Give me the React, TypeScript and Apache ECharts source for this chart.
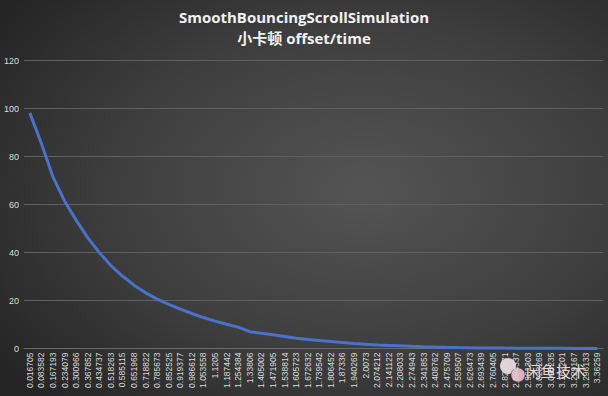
import React, { useEffect, useRef } from "react";
import * as echarts from "echarts";

const titleLine1 = "SmoothBouncingScrollSimulation";
const titleLine2 = "小卡顿 offset/time";
const watermarkText = "闲鱼技术";

const timeLabels = [
  "0.016705", "0.083582", "0.167193", "0.234079", "0.300966", "0.367852", "0.434737", "0.518263",
  "0.585115", "0.651968", "0.718822", "0.785673", "0.852525", "0.919377", "0.986612", "1.053558",
  "1.1205", "1.187442", "1.254384", "1.33806", "1.405002", "1.471905", "1.538814", "1.605723",
  "1.672632", "1.739542", "1.806452", "1.87336", "1.940269", "2.0073", "2.074212", "2.141122",
  "2.208033", "2.274943", "2.341853", "2.408762", "2.475709", "2.559507", "2.626473", "2.693439",
  "2.760405", "2.827371", "2.894337", "2.961303", "3.028269", "3.095235", "3.162201", "3.229167",
  "3.296133", "3.36259",
];

const offsetValues = [
  98.2, 85.5, 71.5, 61.5, 53.5, 46.2, 40.0, 34.6, 30.2, 26.4, 23.2, 20.6, 18.4, 16.4, 14.6, 12.9,
  11.4, 10.1, 8.9, 7.0, 6.4, 5.7, 5.0, 4.3, 3.8, 3.3, 2.9, 2.5, 2.1, 1.8, 1.5, 1.3,
  1.1, 0.9, 0.75, 0.62, 0.5, 0.4, 0.32, 0.26, 0.21, 0.17, 0.14, 0.11, 0.09, 0.07, 0.06, 0.05,
  0.04, 0.03,
];

const yTicks = { min: 0, max: 120, interval: 20 };

export default function App() {
  const ref = useRef<HTMLDivElement>(null);
  useEffect(() => {
    document.body.style.margin = "0";
    const chart = echarts.init(ref.current!, null, { renderer: "svg" });
    const titleFont = "bold 15px 'Open Sans', 'Noto Sans CJK SC', sans-serif";
    chart.setOption({
      animation: false,
      backgroundColor: "#2b2b2b",
      graphic: [
        {
          type: "rect",
          z: -10,
          silent: true,
          shape: { x: 0, y: 0, width: 608, height: 396 },
          style: {
            fill: new echarts.graphic.RadialGradient(0.6, 0.48, 0.75, [
              { offset: 0, color: "#545454" },
              { offset: 0.55, color: "#3e3e3e" },
              { offset: 1, color: "#242424" },
            ]),
          },
        },
        {
          type: "text",
          x: 304,
          y: 17,
          z: 50,
          style: { text: titleLine1, fill: "#f2f2f2", font: titleFont, align: "center", verticalAlign: "middle" },
        },
        {
          type: "text",
          x: 304,
          y: 38,
          z: 50,
          style: { text: titleLine2, fill: "#f2f2f2", font: titleFont, align: "center", verticalAlign: "middle" },
        },
        {
          type: "group",
          z: 100,
          children: [
            { type: "circle", shape: { cx: 508, cy: 366, r: 8 }, style: { fill: "rgba(255,235,240,0.85)" } },
            { type: "circle", shape: { cx: 518, cy: 375, r: 7 }, style: { fill: "rgba(240,190,205,0.9)", stroke: "rgba(90,60,70,0.6)", lineWidth: 1 } },
            {
              type: "text",
              x: 526,
              y: 370,
              style: {
                text: watermarkText,
                fill: "rgba(255,240,245,0.9)",
                font: "15px 'Noto Sans CJK SC'",
                verticalAlign: "middle",
                align: "left",
              },
            },
          ],
        },
      ],
      grid: { left: 24, top: 60.6, width: 579, height: 287.9, containLabel: false },
      xAxis: {
        type: "category",
        data: timeLabels,
        boundaryGap: true,
        axisLine: { show: true, lineStyle: { color: "#6a6a6a", width: 1 } },
        axisTick: { show: false },
        axisLabel: {
          interval: 0,
          rotate: 90,
          color: "#dcdcdc",
          fontSize: 8.5,
          fontFamily: "'Liberation Sans', sans-serif",
          margin: 4,
        },
      },
      yAxis: {
        type: "value",
        min: yTicks.min,
        max: yTicks.max,
        interval: yTicks.interval,
        axisLine: { show: false },
        axisTick: { show: false },
        axisLabel: {
          color: "#dcdcdc",
          fontSize: 9,
          fontFamily: "'Liberation Sans', sans-serif",
          margin: 5,
        },
        splitLine: { lineStyle: { color: "#606060", width: 1 } },
      },
      series: [
        {
          type: "line",
          data: offsetValues,
          symbol: "none",
          smooth: false,
          lineStyle: { color: "#4a72c8", width: 3 },
        },
      ],
    });
    return () => chart.dispose();
  }, []);
  return <div ref={ref} style={{ position: "fixed", left: 0, top: 0, width: 608, height: 396 }} />;
}
